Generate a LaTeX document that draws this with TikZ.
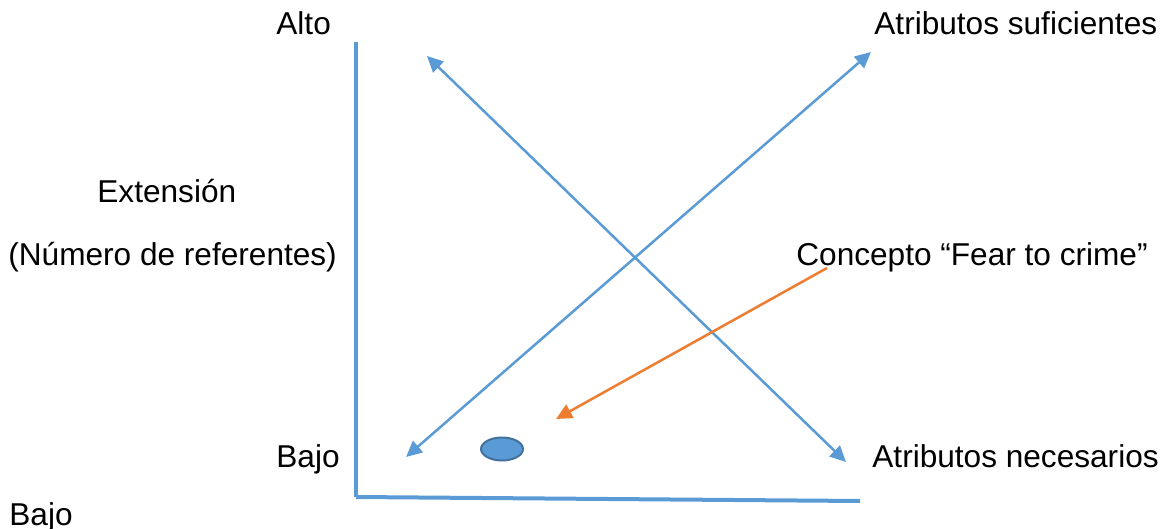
\documentclass[tikz,border=0pt]{standalone}
\usepackage{fontspec}
\setmainfont{Liberation Sans}
\usetikzlibrary{arrows.meta,shapes.geometric}
\definecolor{ablue}{HTML}{5B9BD5}
\definecolor{aorange}{HTML}{ED7D31}
\definecolor{edgeblue}{HTML}{41719C}
\begin{document}
\begin{tikzpicture}[x=0.5pt,y=-0.5pt,
  lbl/.style={anchor=base west,inner sep=0pt,font=\fontsize{15.8}{18}\selectfont},
  axisline/.style={draw=ablue,line width=2pt},
  conn/.style={draw=ablue,line width=1.25pt,{Triangle[length=8pt,width=7.5pt]}-{Triangle[length=8pt,width=7.5pt]}},
  oconn/.style={draw=aorange,line width=1.25pt,-{Triangle[length=8pt,width=7.5pt]}}]
\useasboundingbox (0,0) rectangle (1167,529);
% labels
\node[lbl] (alto) at (276,35) {Alto};
\node[lbl] (suf) at (874,35) {Atributos suficientes};
\node[lbl] (ext) at (97,203) {Extensión};
\node[lbl] (num) at (8,266) {(Número de referentes)};
\node[lbl] (conc) at (796,266) {Concepto “Fear to crime”};
\node[lbl] (bajo1) at (276,467) {Bajo};
\node[lbl] (nec) at (872,467) {Atributos necesarios};
\node[lbl] (bajo2) at (9,525) {Bajo};
% axes
\coordinate (ytop) at (356,42);
\coordinate (orig) at (356,497);
\coordinate (xend) at (860,501);
\draw[axisline] (ytop) -- (orig);
\draw[axisline] (356,497) -- (xend);
% arrows
\coordinate (a1) at (427,56);
\coordinate (a2) at (846,462);
\coordinate (b1) at (406,457);
\coordinate (b2) at (871,52);
\coordinate (o1) at (827,268);
\coordinate (o2) at (556,419);
\draw[conn] (a1) -- (a2);
\draw[conn] (b1) -- (b2);
\draw[oconn] (o1) -- (o2);
% ellipse
\node[draw=edgeblue,fill=ablue,line width=1pt,ellipse,minimum width=21pt,minimum height=11.5pt,inner sep=0pt] (dot) at (502,449) {};
\end{tikzpicture}
\end{document}
